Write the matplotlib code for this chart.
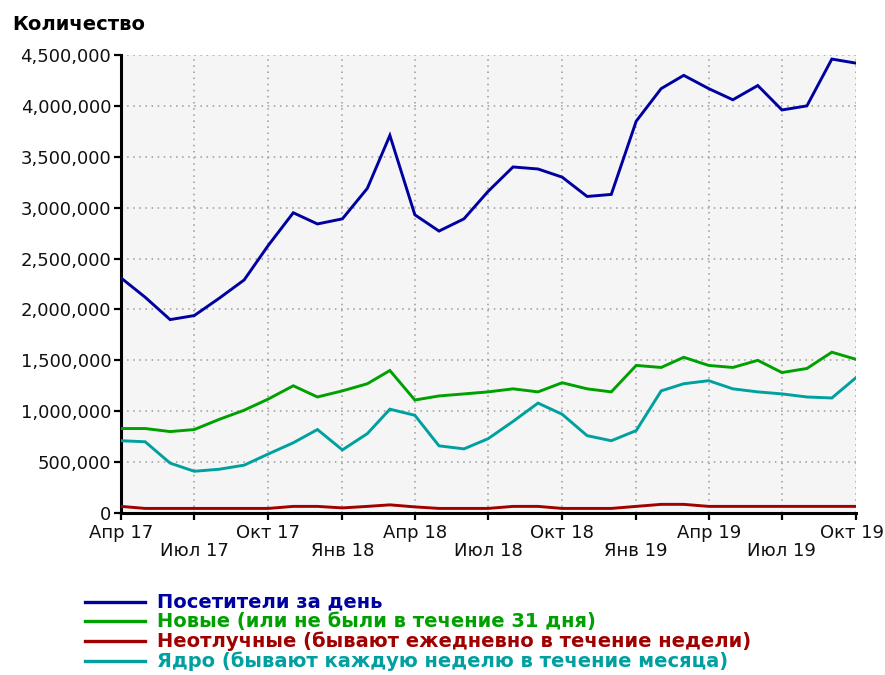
import pandas as pd
import matplotlib
matplotlib.use('Agg')
import matplotlib.pyplot as plt
import matplotlib.transforms as mtransforms
from matplotlib.lines import Line2D
from matplotlib.ticker import FuncFormatter, MultipleLocator

plt.rcParams['font.family'] = ['DejaVu Sans']

# Monthly visitor stats, values in thousands
months = pd.date_range('2017-04-01', '2019-10-01', freq='MS')

visitors = [2310, 2120, 1900, 1940, 2110, 2290, 2630, 2950, 2840, 2890, 3190, 3710,
            2930, 2770, 2890, 3160, 3400, 3380, 3300, 3110, 3130, 3850, 4170, 4300,
            4170, 4060, 4200, 3960, 4000, 4460, 4420]
new_users = [830, 830, 800, 820, 920, 1010, 1120, 1250, 1140, 1200, 1270, 1400,
             1110, 1150, 1170, 1190, 1220, 1190, 1280, 1220, 1190, 1450, 1430, 1530,
             1450, 1430, 1500, 1380, 1420, 1580, 1510]
daily = [65, 45, 45, 45, 45, 45, 45, 65, 65, 50, 65, 80,
         60, 45, 45, 45, 65, 65, 45, 45, 45, 65, 85, 85,
         65, 65, 65, 65, 65, 65, 65]
core = [710, 700, 490, 410, 430, 470, 580, 690, 820, 620, 780, 1020,
        960, 660, 630, 730, 900, 1080, 970, 760, 710, 810, 1200, 1270,
        1300, 1220, 1190, 1170, 1140, 1130, 1330]

series_names = ['Посетители за день',
                'Новые (или не были в течение 31 дня)',
                'Неотлучные (бывают ежедневно в течение недели)',
                'Ядро (бывают каждую неделю в течение месяца)']
series_values = [visitors, new_users, daily, core]
series_colors = ['#0000a0', '#00a000', '#a00000', '#00a0a0']

tick_dates = pd.date_range('2017-04-01', '2019-10-01', freq='QS-JAN')
tick_labels = ['Апр 17', 'Июл 17', 'Окт 17', 'Янв 18', 'Апр 18', 'Июл 18',
               'Окт 18', 'Янв 19', 'Апр 19', 'Июл 19', 'Окт 19']

W, H = 885, 675
fig = plt.figure(figsize=(W / 100, H / 100), dpi=100)
ax = fig.add_axes([121 / W, 1 - 513 / H, 735 / W, 458 / H])
ax.set_facecolor('#f5f5f5')

# draw the lower series first so the main line sits on top
for vals, col in list(zip(series_values, series_colors))[::-1]:
    ax.plot(months, [v * 1000 for v in vals], color=col, lw=2.1,
            solid_joinstyle='miter', zorder=3)

ax.set_xlim(months[0], months[-1])
ax.set_ylim(0, 4500000)
ax.yaxis.set_major_locator(MultipleLocator(500000))
ax.yaxis.set_major_formatter(FuncFormatter(lambda v, p: f'{v:,.0f}'))

ax.set_xticks(tick_dates)
ax.set_xticklabels(tick_labels)
for i, t in enumerate(ax.xaxis.get_major_ticks()):
    t.set_pad(3 if i % 2 == 0 else 16)

ax.grid(True, color='#9a9a9a', linestyle=(0, (1, 3)), linewidth=1.1, zorder=1)
ax.set_axisbelow(True)

for s in ['top', 'right']:
    ax.spines[s].set_visible(False)
for s in ['left', 'bottom']:
    ax.spines[s].set_linewidth(2.2)
    ax.spines[s].set_color('black')

ax.tick_params(axis='both', labelsize=13, colors='black', width=1.6, length=5)
ax.tick_params(axis='y', pad=2)
for lbl in ax.get_xticklabels() + ax.get_yticklabels():
    lbl.set_color('#111111')

# keep the last month label inside the figure
last = ax.get_xticklabels()[-1]
last.set_transform(last.get_transform() +
                   mtransforms.ScaledTranslation(-4 / 100, 0, fig.dpi_scale_trans))

fig.text(12 / W, 1 - 24 / H, 'Количество', fontsize=14, fontweight='bold',
         va='center', ha='left')

# legend rows under the chart
row_y = [602, 621, 641, 661]
for name, col, y in zip(series_names, series_colors, row_y):
    fig.add_artist(Line2D([85 / W, 145 / W], [1 - y / H, 1 - y / H],
                          color=col, lw=2.4, transform=fig.transFigure))
    fig.text(157 / W, 1 - y / H, name, color=col, fontsize=14,
             fontweight='bold', va='center', ha='left')

fig.savefig('out.png', dpi=100)
